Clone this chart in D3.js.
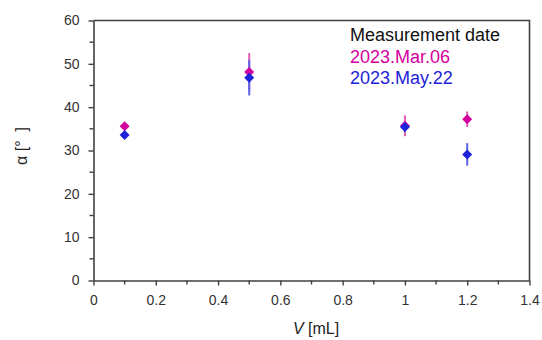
<!DOCTYPE html>
<html>
<head>
<meta charset="utf-8">
<script src="https://cdn.jsdelivr.net/npm/d3@7"></script>
<style>
  html, body { margin: 0; padding: 0; background: #fff; }
  svg { display: block; font-family: "Liberation Sans", Arial, sans-serif; }
</style>
</head>
<body>
<svg id="chart" width="542" height="340"></svg>
<script>
// ---- data ----
const volumes = [0.1, 0.5, 1.0, 1.2];
const marAlpha = [35.6, 48.1, 35.7, 37.2];
const marErr   = [0.5, 4.4, 2.4, 1.8];
const mayAlpha = [33.6, 46.8, 35.4, 29.1];
const mayErr   = [0.5, 4.1, 1.2, 2.6];
const seriesNames = ["2023.Mar.06", "2023.May.22"];
const legendTitle = "Measurement date";
const xTicks = [0, 0.2, 0.4, 0.6, 0.8, 1, 1.2, 1.4];
const yTicks = [0, 10, 20, 30, 40, 50, 60];

// ---- layout ----
const svg = d3.select("#chart");
const pLeft = 93.5, pRight = 529.5, pTop = 20.5, pBottom = 280.5;
const x = d3.scaleLinear().domain([0, 1.4]).range([pLeft, pRight]);
const y = d3.scaleLinear().domain([0, 60]).range([pBottom, pTop]);
const axisColor = "#404040";
const colors = ["#d4009e", "#1e22d8"];
const barColors = ["#e35cb4", "#5a63e4"];

// frame (top & right)
svg.append("path")
  .attr("d", `M${pLeft},${pTop}H${pRight}V${pBottom}`)
  .attr("fill", "none").attr("stroke", axisColor).attr("stroke-width", 1.6);

// minor ticks
const xMinor = d3.range(0.1, 1.4, 0.2);
const yMinor = d3.range(5, 60, 10);
svg.append("g").selectAll("line").data(xMinor).join("line")
  .attr("x1", d => x(d)).attr("x2", d => x(d))
  .attr("y1", pBottom).attr("y2", pBottom + 4)
  .attr("stroke", axisColor).attr("stroke-width", 1.4);
svg.append("g").selectAll("line").data(yMinor).join("line")
  .attr("y1", d => y(d)).attr("y2", d => y(d))
  .attr("x1", pLeft).attr("x2", pLeft - 4)
  .attr("stroke", axisColor).attr("stroke-width", 1.4);

// axes
const xAxis = svg.append("g").attr("transform", `translate(0,${pBottom})`)
  .call(d3.axisBottom(x).tickValues(xTicks).tickFormat(d3.format("~g")).tickSize(5).tickPadding(10).tickSizeOuter(0));
const yAxis = svg.append("g").attr("transform", `translate(${pLeft},0)`)
  .call(d3.axisLeft(y).tickValues(yTicks).tickSize(5).tickPadding(9).tickSizeOuter(0));
[xAxis, yAxis].forEach(g => {
  g.select(".domain").attr("stroke", axisColor).attr("stroke-width", 1.6);
  g.selectAll(".tick line").attr("stroke", axisColor).attr("stroke-width", 1.4);
  g.selectAll(".tick text").attr("fill", "#333").style("font-size", "14px")
    .style("font-family", '"Liberation Sans", Arial, sans-serif');
});

// axis titles
const xt = svg.append("text").attr("x", 316).attr("y", 334)
  .attr("text-anchor", "middle").attr("fill", "#222").style("font-size", "16px");
xt.append("tspan").attr("font-style", "italic").text("V");
xt.append("tspan").text(" [mL]");

svg.append("text")
  .attr("transform", "translate(27,146) rotate(-90)")
  .attr("text-anchor", "middle").attr("fill", "#222").style("font-size", "16px")
  .style("white-space", "pre")
  .text("α [°  ]");

// data series
const series = [
  { vals: marAlpha, errs: marErr },
  { vals: mayAlpha, errs: mayErr }
];
const diamond = (cx, cy) => `M${cx},${cy - 5}L${cx + 5},${cy}L${cx},${cy + 5}L${cx - 5},${cy}Z`;

const barsG = svg.append("g");
const marksG = svg.append("g");
series.forEach((s, i) => {
  barsG.append("g").selectAll("line").data(volumes).join("line")
    .attr("x1", d => x(d)).attr("x2", d => x(d))
    .attr("y1", (d, j) => y(s.vals[j] + s.errs[j]))
    .attr("y2", (d, j) => y(s.vals[j] - s.errs[j]))
    .attr("stroke", barColors[i]).attr("stroke-width", 2);
  marksG.append("g").selectAll("path").data(volumes).join("path")
    .attr("d", (d, j) => diamond(x(d), y(s.vals[j])))
    .attr("fill", colors[i]);
});

// legend
const lg = svg.append("g").style("font-size", "18px");
lg.append("text").attr("x", 350).attr("y", 40.5).attr("fill", "#111").text(legendTitle);
seriesNames.forEach((n, i) => {
  lg.append("text").attr("x", 350).attr("y", 62.5 + i * 21.8).attr("fill", colors[i]).text(n);
});
</script>
</body>
</html>
